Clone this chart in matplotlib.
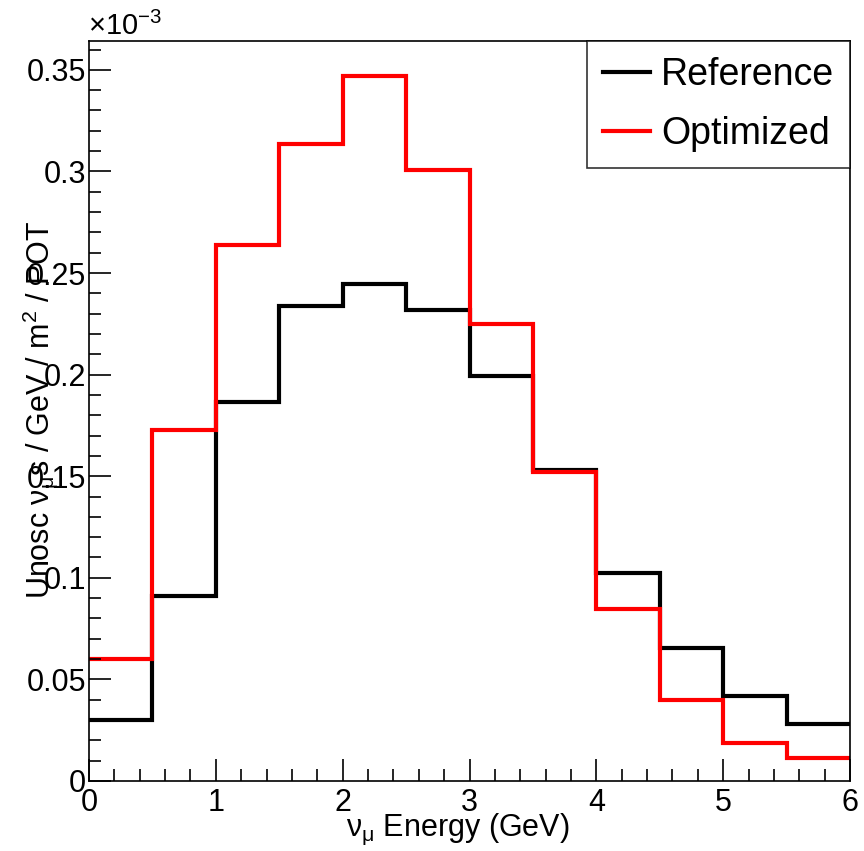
import numpy as np
import matplotlib
matplotlib.use("Agg")
import matplotlib.pyplot as plt
from matplotlib.ticker import MultipleLocator, FuncFormatter

plt.rcParams['font.family'] = ['Liberation Sans', 'DejaVu Sans']
# upright greek letters like ROOT's #nu / #mu
plt.rcParams['mathtext.fontset'] = 'custom'
plt.rcParams['mathtext.rm'] = 'Liberation Sans'
plt.rcParams['mathtext.it'] = 'Liberation Sans'
plt.rcParams['mathtext.bf'] = 'Liberation Sans:bold'

# bin edges in GeV, flux in units of 1e-3
edges = np.arange(0, 6.01, 0.5)
reference = [0.030, 0.091, 0.1865, 0.234, 0.2446, 0.2318, 0.1993, 0.153, 0.1024, 0.0655, 0.0418, 0.028]
optimized = [0.060, 0.1727, 0.2638, 0.3135, 0.347, 0.3007, 0.225, 0.152, 0.0846, 0.0399, 0.0187, 0.0113]

fig = plt.figure(figsize=(8.64, 8.51), dpi=100)
ax = fig.add_axes([89/864, 1-781/851, (850-89)/864, (781-41)/851])

ax.stairs(reference, edges, color='black', lw=3, label='Reference', baseline=None)
ax.stairs(optimized, edges, color='#ff0000', lw=3, label='Optimized', baseline=None)

ax.set_xlim(0, 6)
ax.set_ylim(0, 0.3642)

ax.xaxis.set_major_locator(MultipleLocator(1))
ax.xaxis.set_minor_locator(MultipleLocator(0.2))
ax.yaxis.set_major_locator(MultipleLocator(0.05))
ax.yaxis.set_minor_locator(MultipleLocator(0.01))
ax.yaxis.set_major_formatter(FuncFormatter(lambda v, p: '%g' % round(v, 3)))
ax.tick_params(which='both', direction='in', top=False, right=False, labelsize=22, width=1.2)
ax.tick_params(which='major', length=16)
ax.tick_params(which='minor', length=8.5)
ax.tick_params(axis='x', pad=5)
ax.tick_params(axis='y', pad=2)
for s in ax.spines.values():
    s.set_linewidth(1.2)

fig.text(88/864, 1-26/851, r'$\times$10$^{-3}$', fontsize=21, ha='left', va='center')
fig.text(458/864, 1-829/851, r'$\nu_{\mu}$ Energy (GeV)', fontsize=22, ha='center', va='center')
fig.text(40/864, 1-410/851, r"Unosc $\nu_{\mu}$s / GeV / m$^2$ / POT", fontsize=22,
         rotation=90, ha='center', va='center')

leg = ax.legend(loc='upper right', bbox_to_anchor=(1.0, 1.0), fontsize=27, frameon=True,
                fancybox=False, edgecolor='black', handlelength=1.25, handletextpad=0.3,
                borderpad=0.42, labelspacing=0.62, borderaxespad=0)
leg.get_frame().set_linewidth(1.2)

fig.savefig('out.png', dpi=100)
